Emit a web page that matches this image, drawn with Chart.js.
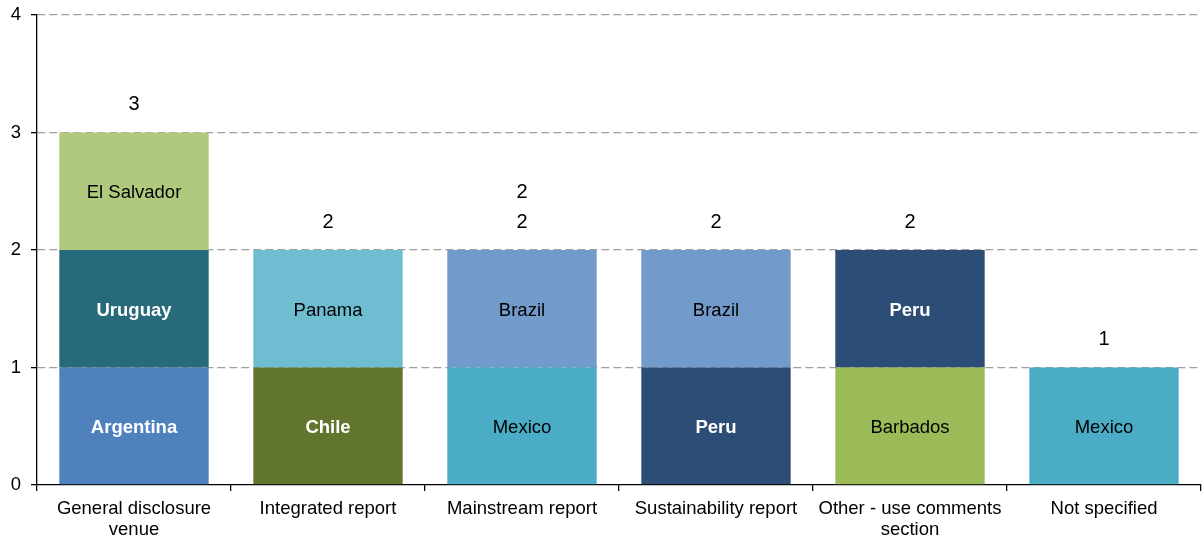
<!DOCTYPE html>
<html>
<head>
<meta charset="utf-8">
<script src="https://cdn.jsdelivr.net/npm/chart.js@4.4.1/dist/chart.umd.min.js"></script>
<style>
html,body{margin:0;padding:0;background:#fff;}
#wrap{width:1204px;height:540px;position:relative;}
</style>
</head>
<body>
<div id="wrap"><canvas id="c" width="1204" height="540"></canvas></div>
<script>
const categories = [
  ['General disclosure', 'venue'],
  'Integrated report',
  'Mainstream report',
  'Sustainability report',
  ['Other - use comments', 'section'],
  'Not specified'
];
const layer1Names  = ['Argentina', 'Chile', 'Mexico', 'Peru', 'Barbados', 'Mexico'];
const layer1Values = [1, 1, 1, 1, 1, 1];
const layer2Names  = ['Uruguay', 'Panama', 'Brazil', 'Brazil', 'Peru', null];
const layer2Values = [1, 1, 1, 1, 1, null];
const layer3Names  = ['El Salvador', null, null, null, null, null];
const layer3Values = [1, null, null, null, null, null];
const totalLabels  = [['3'], ['2'], ['2', '2'], ['2'], ['2'], ['1']];
const yTicks = [0, 1, 2, 3, 4];

// styles
const countryColors = {
  'Argentina': '#4F81BD', 'Uruguay': '#276A7A', 'El Salvador': '#AFCA7E',
  'Chile': '#61752F', 'Panama': '#6FBDD1', 'Mexico': '#4BACC6',
  'Brazil': '#729ACA', 'Peru': '#2C4D76', 'Barbados': '#9BBB59'
};
const darkCountries = ['Argentina', 'Uruguay', 'Chile', 'Peru'];
const FONT = "'Liberation Sans', Arial, sans-serif";

const layers = [
  {names: layer1Names, values: layer1Values},
  {names: layer2Names, values: layer2Values},
  {names: layer3Names, values: layer3Values}
];

const datasets = layers.map((l, i) => ({
  label: 'Layer ' + (i + 1),
  data: l.values,
  names: l.names,
  backgroundColor: l.names.map(n => n ? countryColors[n] : 'transparent'),
  borderWidth: 0,
  categoryPercentage: 1.0,
  barPercentage: 0.77,
  stack: 's'
}));

const labelPlugin = {
  id: 'labels',
  afterDatasetsDraw(chart) {
    const ctx = chart.ctx;
    ctx.save();
    ctx.textAlign = 'center';
    ctx.textBaseline = 'middle';
    chart.data.datasets.forEach((ds, di) => {
      const meta = chart.getDatasetMeta(di);
      meta.data.forEach((bar, i) => {
        const name = ds.names[i];
        if (!name || ds.data[i] == null) return;
        const dark = darkCountries.includes(name);
        ctx.fillStyle = dark ? '#ffffff' : '#000000';
        ctx.font = (dark ? 'bold ' : '') + '18.5px ' + FONT;
        const cy = (bar.y + bar.base) / 2 + 2;
        ctx.fillText(name, bar.x, cy);
      });
    });
    // totals
    const y = chart.scales.y;
    ctx.fillStyle = '#000000';
    ctx.font = '20px ' + FONT;
    categories.forEach((c, i) => {
      let sum = 0;
      layers.forEach(l => { sum += (l.values[i] || 0); });
      const top = y.getPixelForValue(sum);
      const x = chart.getDatasetMeta(0).data[i].x;
      totalLabels[i].forEach((t, k) => {
        ctx.fillText(t, x, top - 28 - k * 30);
      });
    });
    ctx.restore();
  }
};

new Chart(document.getElementById('c'), {
  type: 'bar',
  data: {labels: categories, datasets},
  options: {
    responsive: false,
    animation: false,
    devicePixelRatio: 1,
    layout: {padding: {top: 15, right: 3, left: 0, bottom: 0}},
    plugins: {legend: {display: false}, tooltip: {enabled: false}},
    scales: {
      x: {
        stacked: true,
        offset: true,
        grid: {display: true, drawOnChartArea: false, offset: true, tickLength: 6, tickColor: '#000', lineWidth: 1.3},
        border: {display: true, color: '#000', width: 1.3},
        ticks: {color: '#000', font: {family: FONT, size: 18.5, lineHeight: 1.1}, padding: 8, maxRotation: 0, autoSkip: false},
        afterFit(s) { s.height = 55; s.paddingLeft = 0; s.paddingRight = 0; }
      },
      y: {
        stacked: true,
        min: 0, max: 4,
        afterBuildTicks(s) { s.ticks = yTicks.map(v => ({value: v})); },
        grid: {
          color: ctx => ctx.tick && ctx.tick.value === 0 ? 'rgba(0,0,0,0)' : '#A0A0A0',
          tickColor: '#000', tickLength: 6, lineWidth: 1.3
        },
        border: {display: true, color: '#000', width: 1.3, dash: [8, 4]},
        ticks: {color: '#000', font: {family: FONT, size: 18.5}, padding: 10},
        afterFit(s) { s.width = 37; s.paddingTop = 0; s.paddingBottom = 0; }
      }
    }
  },
  plugins: [labelPlugin]
});
</script>
</body>
</html>
